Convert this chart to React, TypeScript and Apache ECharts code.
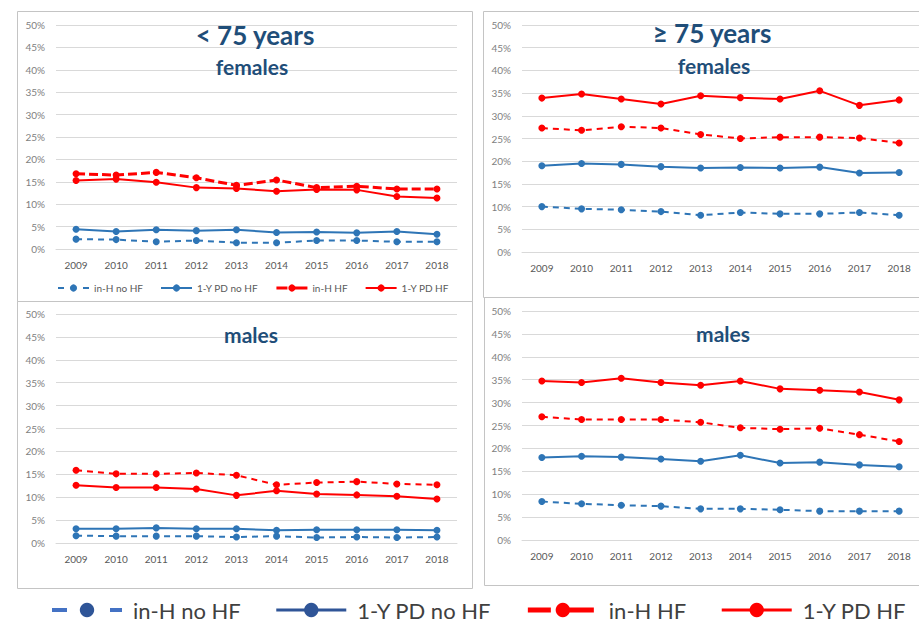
import React, { useEffect, useRef } from "react";
import * as echarts from "echarts";

const years = ["2009", "2010", "2011", "2012", "2013", "2014", "2015", "2016", "2017", "2018"];
const seriesNames = ["in-H no HF", "1-Y PD no HF", "in-H HF", "1-Y PD HF"];
const panelTitles = ["< 75 years", "≥ 75 years", "", ""];
const panelSubtitles = ["females", "females", "males", "males"];

// < 75 years, females
const youngF_inHnoHF = [2.2, 2.1, 1.6, 1.9, 1.4, 1.4, 1.9, 1.9, 1.6, 1.6];
const youngF_pdNoHF = [4.4, 3.9, 4.3, 4.1, 4.3, 3.7, 3.8, 3.6, 3.9, 3.3];
const youngF_inHHF = [16.8, 16.5, 17.1, 15.9, 14.2, 15.4, 13.7, 14.0, 13.4, 13.4];
const youngF_pdHF = [15.3, 15.6, 14.9, 13.7, 13.5, 12.9, 13.3, 13.2, 11.7, 11.4];

// >= 75 years, females
const oldF_inHnoHF = [10.0, 9.5, 9.3, 8.9, 8.1, 8.7, 8.4, 8.4, 8.7, 8.1];
const oldF_pdNoHF = [19.0, 19.5, 19.3, 18.8, 18.5, 18.6, 18.5, 18.7, 17.4, 17.5];
const oldF_inHHF = [27.3, 26.8, 27.6, 27.3, 25.9, 25.0, 25.3, 25.3, 25.1, 24.0];
const oldF_pdHF = [33.9, 34.8, 33.7, 32.6, 34.4, 34.0, 33.7, 35.5, 32.3, 33.5];

// < 75 years, males
const youngM_inHnoHF = [1.6, 1.5, 1.5, 1.5, 1.3, 1.5, 1.2, 1.3, 1.2, 1.3];
const youngM_pdNoHF = [3.1, 3.1, 3.3, 3.1, 3.1, 2.8, 2.9, 2.9, 2.9, 2.8];
const youngM_inHHF = [15.9, 15.1, 15.1, 15.3, 14.8, 12.7, 13.2, 13.4, 12.9, 12.7];
const youngM_pdHF = [12.6, 12.1, 12.1, 11.8, 10.4, 11.4, 10.7, 10.5, 10.2, 9.6];

// >= 75 years, males
const oldM_inHnoHF = [8.4, 7.9, 7.6, 7.4, 6.8, 6.8, 6.6, 6.3, 6.3, 6.3];
const oldM_pdNoHF = [18.0, 18.3, 18.1, 17.7, 17.2, 18.5, 16.8, 17.0, 16.4, 16.0];
const oldM_inHHF = [26.9, 26.3, 26.3, 26.3, 25.7, 24.5, 24.2, 24.4, 23.0, 21.5];
const oldM_pdHF = [34.7, 34.4, 35.3, 34.4, 33.8, 34.7, 33.0, 32.7, 32.3, 30.6];

const yMin = 0;
const yMax = 50;
const yInterval = 5;

const panelData = [
  [youngF_inHnoHF, youngF_pdNoHF, youngF_inHHF, youngF_pdHF],
  [oldF_inHnoHF, oldF_pdNoHF, oldF_inHHF, oldF_pdHF],
  [youngM_inHnoHF, youngM_pdNoHF, youngM_inHHF, youngM_pdHF],
  [oldM_inHnoHF, oldM_pdNoHF, oldM_inHHF, oldM_pdHF],
];

const BLUE = "#2E75B6";
const RED = "#FF0000";
const NAVY = "#1F4E79";
const FONT = "Lato";

const grids = [
  { left: 56, top: 25, width: 401, height: 224 },
  { left: 522, top: 25, width: 401, height: 227 },
  { left: 56, top: 314, width: 401, height: 229 },
  { left: 522, top: 311, width: 401, height: 229 },
];

const boxes = [
  { x: 17, y: 11, w: 455, h: 290 },
  { x: 483, y: 11, w: 450, h: 286 },
  { x: 17, y: 301, w: 455, h: 287 },
  { x: 484, y: 297, w: 450, h: 288 },
];

const titlePos = [
  { tx: 255, ty: 35, sx: 252, sy: 66 },
  { tx: 712, ty: 33, sx: 714, sy: 65 },
  { tx: 0, ty: 0, sx: 251, sy: 334 },
  { tx: 0, ty: 0, sx: 723, sy: 333 },
];

function seriesStyle(k: number, panel: number) {
  const color = k < 2 ? BLUE : RED;
  const dashed = k === 0 || k === 2;
  let width = 2;
  let type: any = "solid";
  if (dashed) {
    if (k === 2 && panel === 0) {
      width = 3;
      type = [9, 4];
    } else {
      type = [6, 5];
    }
  }
  return { color, width, type };
}

export default function App() {
  const ref = useRef<HTMLDivElement>(null);

  useEffect(() => {
    if (!ref.current) return;
    const chart = echarts.init(ref.current, undefined, { renderer: "svg" });

    const xAxis = grids.map((_, i) => ({
      type: "category",
      gridIndex: i,
      data: years,
      boundaryGap: true,
      axisTick: { show: false },
      axisLine: { show: true, lineStyle: { color: "#D9D9D9", width: 1 } },
      axisLabel: { color: "#595959", fontSize: 10, fontFamily: FONT, margin: 11 },
    }));

    const yAxis = grids.map((_, i) => ({
      type: "value",
      gridIndex: i,
      min: yMin,
      max: yMax,
      interval: yInterval,
      axisLine: { show: false },
      axisTick: { show: false },
      axisLabel: { color: "#7F7F7F", fontSize: 10, fontFamily: FONT, margin: 11, formatter: "{value}%" },
      splitLine: { lineStyle: { color: "#D9D9D9", width: 1 } },
    }));

    const series: any[] = [];
    panelData.forEach((arrs, p) => {
      arrs.forEach((vals, k) => {
        const st = seriesStyle(k, p);
        series.push({
          type: "line",
          name: seriesNames[k],
          xAxisIndex: p,
          yAxisIndex: p,
          data: vals,
          symbol: "circle",
          symbolSize: 7,
          itemStyle: { color: st.color },
          lineStyle: { color: st.color, width: st.width, type: st.type },
          emphasis: { disabled: true },
          z: 3 + k,
        });
      });
    });

    const graphics: any[] = [];
    boxes.forEach((b) => {
      graphics.push({
        type: "rect",
        shape: { x: b.x + 0.5, y: b.y + 0.5, width: b.w, height: b.h },
        style: { fill: "none", stroke: "#C4C4C4", lineWidth: 1 },
        z: -1,
        silent: true,
      });
    });
    titlePos.forEach((t, i) => {
      if (panelTitles[i]) {
        graphics.push({
          type: "text",
          x: t.tx,
          y: t.ty,
          style: {
            text: panelTitles[i],
            fill: NAVY,
            font: `bold 26px ${FONT}`,
            textAlign: "center",
            textVerticalAlign: "middle",
          },
          z: 10,
        });
      }
      graphics.push({
        type: "text",
        x: t.sx,
        y: t.sy,
        style: {
          text: panelSubtitles[i],
          fill: NAVY,
          font: `bold 21px ${FONT}`,
          textAlign: "center",
          textVerticalAlign: "middle",
        },
        z: 10,
      });
    });

    const smallLegendData = [
      { name: seriesNames[0], lineStyle: { type: [6, 19], width: 2, color: BLUE } },
      { name: seriesNames[1], lineStyle: { type: "solid", width: 2, color: BLUE } },
      { name: seriesNames[2], lineStyle: { type: [11, 2, 20, 2], width: 3, color: RED } },
      { name: seriesNames[3], lineStyle: { type: "solid", width: 2, color: RED } },
    ];
    const bigLegendData = [
      { name: seriesNames[0], itemStyle: { color: "#2F5597" }, lineStyle: { type: [15, 43], width: 4, color: "#4472C4" } },
      { name: seriesNames[1], itemStyle: { color: "#2F5597" }, lineStyle: { type: "solid", width: 3, color: "#2F5597" } },
      { name: seriesNames[2], itemStyle: { color: RED }, lineStyle: { type: [23, 7, 36, 7], width: 5, color: RED } },
      { name: seriesNames[3], itemStyle: { color: RED }, lineStyle: { type: "solid", width: 3, color: RED } },
    ];

    chart.setOption({
      animation: false,
      backgroundColor: "#FFFFFF",
      textStyle: { fontFamily: FONT },
      grid: grids.map((g) => ({ ...g, containLabel: false })),
      xAxis,
      yAxis,
      series,
      legend: [
        {
          left: 57,
          top: 283,
          padding: 0,
          orient: "horizontal",
          itemWidth: 31,
          itemHeight: 9,
          itemGap: 17,
          data: smallLegendData,
          textStyle: { color: "#595959", fontSize: 10, fontFamily: FONT },
          selectedMode: false,
        },
        {
          left: 50,
          top: 599,
          right: 0,
          padding: 0,
          orient: "horizontal",
          itemWidth: 70,
          itemHeight: 18,
          itemGap: 34,
          data: bigLegendData,
          textStyle: { color: "#404040", fontSize: 22, fontFamily: FONT, padding: [0, 0, 0, 6] },
          selectedMode: false,
        },
      ],
      graphic: graphics,
    });

    return () => {
      chart.dispose();
    };
  }, []);

  return (
    <div
      ref={ref}
      style={{ position: "absolute", left: 0, top: 0, width: 919, height: 623, background: "#fff" }}
    />
  );
}
